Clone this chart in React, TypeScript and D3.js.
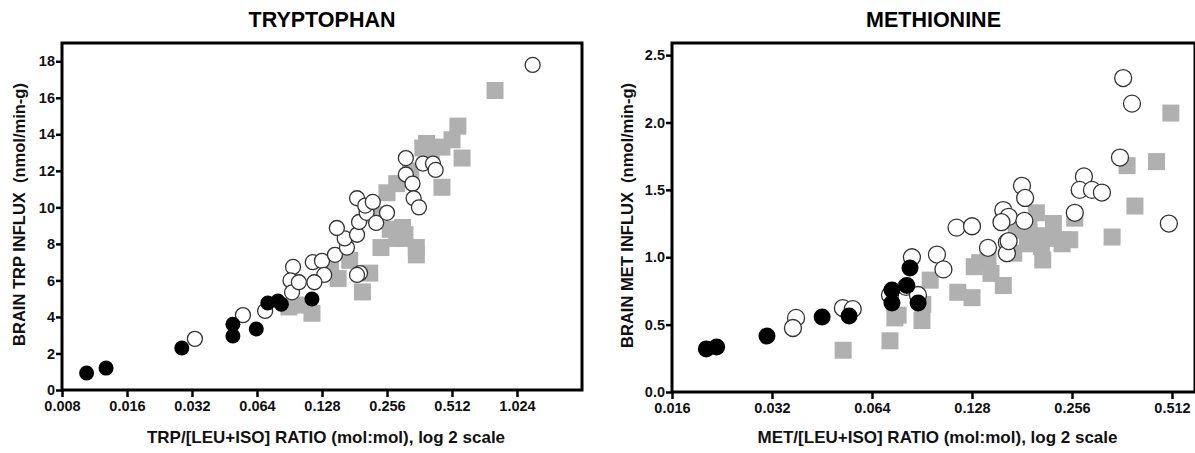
import React, { useEffect, useRef } from 'react';
import * as d3 from 'd3';

type Pt = [number, number];

// TRYPTOPHAN panel: [ratio, influx]
const trpBlack: Pt[] = [
    [0.0104, 0.93], [0.0128, 1.2], [0.0287, 2.3], [0.0495, 3.6], [0.0495, 2.96],
    [0.0635, 3.34], [0.0718, 4.76], [0.08, 4.87], [0.083, 4.7], [0.115, 4.98],
];
const trpOpen: Pt[] = [
    [0.033, 2.8], [0.0551, 4.1], [0.0698, 4.33], [0.094, 6.74], [0.0915, 6.0],
    [0.093, 5.35], [0.1, 5.9], [0.116, 7.0], [0.128, 7.07], [0.131, 6.3],
    [0.118, 5.9], [0.147, 7.4], [0.167, 7.8], [0.163, 8.3], [0.186, 8.5],
    [0.192, 6.4], [0.186, 6.3], [0.15, 8.87], [0.19, 9.2], [0.206, 9.7],
    [0.228, 9.15], [0.256, 9.7], [0.186, 10.5], [0.203, 10.1], [0.22, 10.3],
    [0.313, 12.7], [0.376, 12.4], [0.418, 12.4], [0.43, 12.05], [0.313, 11.8],
    [0.336, 11.3], [0.34, 10.5], [0.36, 10.0], [1.21, 17.8],
];
const trpGray: Pt[] = [
    [0.81, 16.4], [0.545, 14.45], [0.512, 13.7], [0.57, 12.7], [0.46, 13.3],
    [0.39, 13.5], [0.375, 13.25], [0.41, 13.1], [0.46, 11.1], [0.256, 10.8],
    [0.284, 11.3], [0.302, 8.9], [0.305, 8.3], [0.35, 7.8], [0.265, 8.8],
    [0.24, 7.8], [0.284, 8.3], [0.31, 8.5], [0.35, 7.4], [0.213, 6.4],
    [0.197, 5.37], [0.152, 6.1], [0.172, 7.1], [0.14, 6.6], [0.115, 4.2],
    [0.09, 4.55], [0.107, 4.65], [0.33, 12.0], [0.22, 9.6],
];

// METHIONINE panel
const metBlack: Pt[] = [
    [0.0203, 0.32], [0.0218, 0.334], [0.0309, 0.415], [0.0453, 0.556], [0.0546, 0.564],
    [0.0735, 0.757], [0.0735, 0.66], [0.0833, 0.92], [0.0815, 0.79], [0.0881, 0.66],
];
const metOpen: Pt[] = [
    [0.0378, 0.55], [0.037, 0.475], [0.0523, 0.623], [0.056, 0.615], [0.0725, 0.72],
    [0.0844, 1.0], [0.1004, 1.02], [0.105, 0.91], [0.081, 0.78], [0.088, 0.72],
    [0.143, 1.07], [0.163, 1.11], [0.163, 1.03], [0.365, 2.33], [0.388, 2.14],
    [0.357, 1.74], [0.501, 1.25], [0.278, 1.6], [0.27, 1.5], [0.294, 1.5],
    [0.315, 1.48], [0.261, 1.33], [0.181, 1.53], [0.185, 1.44], [0.159, 1.35],
    [0.165, 1.3], [0.157, 1.26], [0.184, 1.27], [0.115, 1.22], [0.128, 1.23],
    [0.165, 1.12],
];
const metGray: Pt[] = [
    [0.0524, 0.31], [0.0725, 0.38], [0.075, 0.55], [0.0767, 0.57], [0.0905, 0.53],
    [0.091, 0.65], [0.0958, 0.83], [0.116, 0.74], [0.128, 0.7], [0.13, 0.93],
    [0.135, 0.96], [0.146, 0.88], [0.159, 0.79], [0.143, 0.99], [0.171, 1.03],
    [0.188, 1.1], [0.209, 0.98], [0.207, 1.08], [0.2, 1.16], [0.239, 1.1],
    [0.252, 1.13], [0.338, 1.15], [0.508, 2.07], [0.46, 1.71], [0.375, 1.68],
    [0.396, 1.38], [0.261, 1.29], [0.2, 1.33], [0.174, 1.2], [0.221, 1.14],
    [0.24, 1.13], [0.19, 1.22], [0.225, 1.25],
];

const trpXTicks = [0.008, 0.016, 0.032, 0.064, 0.128, 0.256, 0.512, 1.024];
const trpYTicks = [0, 2, 4, 6, 8, 10, 12, 14, 16, 18];
const metXTicks = [0.016, 0.032, 0.064, 0.128, 0.256, 0.512];
const metYTicks = [0, 0.5, 1.0, 1.5, 2.0, 2.5];

const FONT = '"Liberation Sans", Arial, sans-serif';

interface PanelCfg {
    left: number; right: number; top: number; bottom: number;
    xDomain: [number, number]; yDomain: [number, number];
    xTicks: number[]; yTicks: number[];
    yFmt: (v: number) => string;
    title: string; xLabel: string; yLabel: string;
    black: Pt[]; open: Pt[]; gray: Pt[];
    r: number; sq: number; yLabelX: number;
}

function drawPanel(svg: d3.Selection<SVGSVGElement, unknown, null, undefined>, c: PanelCfg) {
    const x = d3.scaleLog().base(2).domain(c.xDomain).range([c.left, c.right]);
    const y = d3.scaleLinear().domain(c.yDomain).range([c.bottom, c.top]);
    const g = svg.append('g');

    g.append('g').selectAll('rect')
        .data(c.gray)
        .join('rect')
        .attr('x', d => x(d[0]) - c.sq / 2)
        .attr('y', d => y(d[1]) - c.sq / 2)
        .attr('width', c.sq)
        .attr('height', c.sq)
        .attr('fill', '#b0b0b0');

    g.append('g').selectAll('circle')
        .data(c.open)
        .join('circle')
        .attr('cx', d => x(d[0]))
        .attr('cy', d => y(d[1]))
        .attr('r', c.r)
        .attr('fill', '#fff')
        .attr('stroke', '#333')
        .attr('stroke-width', 1.3);

    g.append('g').selectAll('circle')
        .data(c.black)
        .join('circle')
        .attr('cx', d => x(d[0]))
        .attr('cy', d => y(d[1]))
        .attr('r', c.r)
        .attr('fill', '#000');

    // frame
    g.append('rect')
        .attr('x', c.left)
        .attr('y', c.top)
        .attr('width', c.right - c.left)
        .attr('height', c.bottom - c.top)
        .attr('fill', 'none')
        .attr('stroke', '#000')
        .attr('stroke-width', 3);

    const xAxis = g.append('g')
        .attr('transform', `translate(0,${c.bottom})`)
        .call(d3.axisBottom(x).tickValues(c.xTicks).tickSize(7).tickPadding(4).tickFormat(d => String(d)));
    const yAxis = g.append('g')
        .attr('transform', `translate(${c.left},0)`)
        .call(d3.axisLeft(y).tickValues(c.yTicks).tickSize(6).tickPadding(1).tickFormat(d => c.yFmt(d as number)));

    [xAxis, yAxis].forEach(a => {
        a.select('.domain').remove();
        a.selectAll('line').attr('stroke', '#000').attr('stroke-width', 2.5);
        a.selectAll('text')
            .attr('fill', '#111')
            .style('font-family', FONT)
            .style('font-size', '14.5px')
            .style('font-weight', 'bold');
    });

    const cx = (c.left + c.right) / 2;
    g.append('text')
        .attr('x', cx)
        .attr('y', 27)
        .attr('text-anchor', 'middle')
        .style('font-family', FONT)
        .style('font-size', '21.5px')
        .style('font-weight', 'bold')
        .text(c.title);

    g.append('text')
        .attr('x', cx + 4)
        .attr('y', 443)
        .attr('text-anchor', 'middle')
        .attr('fill', '#111')
        .style('font-family', FONT)
        .style('font-size', '17px')
        .style('font-weight', 'bold')
        .text(c.xLabel);

    g.append('text')
        .attr('transform', `translate(${c.yLabelX},${(c.top + c.bottom) / 2 - 2}) rotate(-90)`)
        .attr('text-anchor', 'middle')
        .attr('fill', '#111')
        .style('font-family', FONT)
        .style('font-size', '16.5px')
        .style('font-weight', 'bold')
        .style('white-space', 'pre')
        .text(c.yLabel);
}

const App: React.FC = () => {
    const svgRef = useRef<SVGSVGElement>(null);

    useEffect(() => {
        document.body.style.margin = '0';
        if (!svgRef.current) return;
        const svg = d3.select(svgRef.current);
        svg.selectAll('*').remove();

        drawPanel(svg, {
            left: 62, right: 582, top: 43, bottom: 390,
            xDomain: [0.008, 2.048], yDomain: [0, 19],
            xTicks: trpXTicks, yTicks: trpYTicks,
            yFmt: v => String(v),
            title: 'TRYPTOPHAN',
            xLabel: 'TRP/[LEU+ISO] RATIO (mol:mol), log 2 scale',
            yLabel: 'BRAIN TRP INFLUX  (nmol/min-g)',
            black: trpBlack, open: trpOpen, gray: trpGray,
            r: 7.5, sq: 17, yLabelX: 25,
        });

        drawPanel(svg, {
            left: 672, right: 1195, top: 43, bottom: 392,
            xDomain: [0.016, 0.016 * Math.pow(2, 5.23)], yDomain: [0, 2.59],
            xTicks: metXTicks, yTicks: metYTicks,
            yFmt: v => v.toFixed(1),
            title: 'METHIONINE',
            xLabel: 'MET/[LEU+ISO] RATIO (mol:mol), log 2 scale',
            yLabel: 'BRAIN MET INFLUX  (nmol/min-g)',
            black: metBlack, open: metOpen, gray: metGray,
            r: 8.5, sq: 17, yLabelX: 633,
        });
    }, []);

    return (
        <svg ref={svgRef} width={1195} height={453} style={{ display: 'block', background: '#fff' }} />
    );
};

export default App;
